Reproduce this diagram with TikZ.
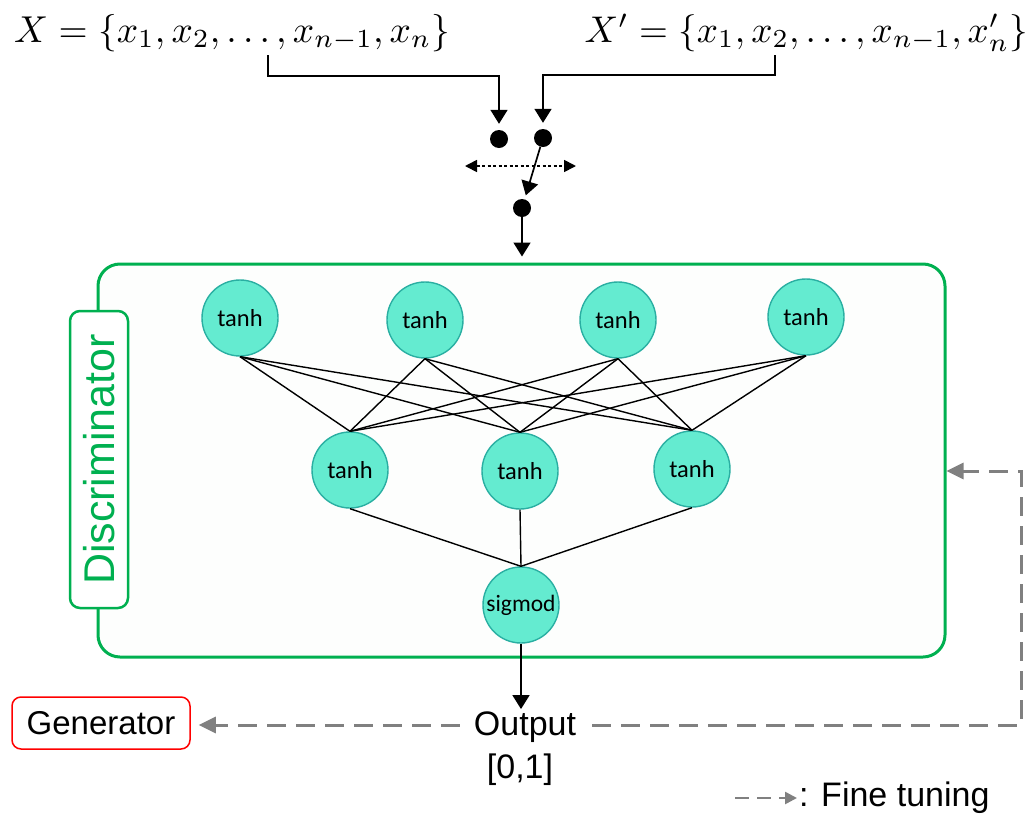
\documentclass[tikz,border=0pt]{standalone}
\usepackage{fontspec}
\usepackage{graphicx}
\setmainfont{Liberation Sans}
\newfontfamily\neuronfont{Carlito}
\usetikzlibrary{arrows.meta,calc}
\definecolor{discgreen}{HTML}{00B050}
\definecolor{neuronfill}{HTML}{64EBD0}
\definecolor{neurondraw}{HTML}{2AAFA2}
\definecolor{tunegray}{HTML}{808080}
\definecolor{boxfill}{HTML}{FDFEFD}

\begin{document}
\begin{tikzpicture}[x=1pt,y=-1pt,
  neuron/.style={circle,draw=neurondraw,line width=1.4pt,fill=neuronfill,
    minimum size=76pt,inner sep=0pt,font=\neuronfont\fontsize{24.5}{26}\selectfont},
  link/.style={line width=1.4pt},
  feed/.style={line width=1.7pt,-{Triangle[length=14pt,width=17pt]}},
  dot/.style={circle,fill=black,minimum size=18pt,inner sep=0pt},
  switch/.style={line width=1.7pt,dash pattern=on 3pt off 2.5pt,
    {Triangle[length=12pt,width=12pt]}-{Triangle[length=12pt,width=12pt]}},
  tune/.style={draw=tunegray,line width=3pt,dash pattern=on 19pt off 10pt,
    -{Triangle[length=17pt,width=16pt,fill=tunegray]}},
  label/.style={font=\fontsize{34}{38}\selectfont,inner sep=2pt}
]
\useasboundingbox (0,0) rectangle (1031,817);
\fill[white] (0,0) rectangle (1031,817);

% input sets
\node[anchor=base west,inner sep=0pt] (xset) at (14,42)
  {\resizebox{436pt}{!}{$X=\{x_1,x_2,\dots,x_{n-1},x_n\}$}};
\node[anchor=base east,inner sep=0pt] (xpset) at (1028,42)
  {\resizebox{443pt}{!}{$X'=\{x_1,x_2,\dots,x_{n-1},x'_n\}$}};

% switch between the two inputs
\node[dot] (d1) at (499,139) {};
\node[dot] (d2) at (543,138) {};
\node[dot] (d3) at (522,208) {};
\coordinate (lsrc) at (268,55);
\coordinate (ljoin) at (499,76);
\coordinate (rsrc) at (775,55);
\coordinate (rjoin) at (543,75);
\coordinate (swl) at (465,166);
\coordinate (swr) at (576,166);
\draw[feed,shorten >=6pt] (lsrc) |- (ljoin) -- (d1);
\draw[feed,shorten >=6pt] (rsrc) |- (rjoin) -- (d2);
\draw[switch] (swl) -- (swr);
\draw[feed,shorten >=4pt] (d2) -- (d3);

% discriminator block
\node[draw=discgreen,line width=3pt,rounded corners=22pt,fill=boxfill,
  minimum width=847pt,minimum height=393pt,inner sep=0pt] (disc) at (521.5,460.5) {};
\node[draw=discgreen,line width=2.5pt,rounded corners=10pt,fill=white,
  minimum width=297pt,minimum height=58pt,inner sep=0pt,rotate=90,
  text=discgreen,font=\fontsize{43}{46}\selectfont] (dlabel) at (99,459.5) {Discriminator};
\draw[feed,shorten >=6pt] (d3) -- (d3 |- disc.north);

% network
\node[neuron] (h1) at (240,318) {tanh};
\node[neuron] (h2) at (425,320) {tanh};
\node[neuron] (h3) at (618,320) {tanh};
\node[neuron] (h4) at (806,317) {tanh};
\node[neuron] (m1) at (350,470) {tanh};
\node[neuron] (m2) at (520,471) {tanh};
\node[neuron] (m3) at (692,469) {tanh};
\node[neuron,font=\neuronfont\fontsize{23.5}{26}\selectfont] (out) at (521,605) {sigmod};
\foreach \a in {h1,h2,h3,h4}
  \foreach \b in {m1,m2,m3}
    \draw[link] (\a.south) -- (\b.north);
\foreach \b in {m1,m2,m3}
  \draw[link] (\b.south) -- (out.north);

% output and feedback
\node[label,anchor=base] (outlabel) at (525,735) {Output};
\node[label,anchor=base] (range) at (520,778) {[0,1]};
\draw[feed] (out.south) -- (out.south |- outlabel.north);
\node[draw=red,line width=1.5pt,rounded corners=9pt,minimum width=178pt,
  minimum height=52pt,inner sep=0pt,font=\fontsize{33}{36}\selectfont] (gen) at (101,723) {Generator};
\coordinate (tbr) at (1021,725);
\coordinate (ttr) at (1021,471);
\draw[tune,shorten <=14pt] (tbr -| outlabel.east) -- (tbr) -- (ttr) -- (disc.east |- ttr);
\draw[tune,shorten <=12pt,shorten >=8pt] (tbr -| outlabel.west) -- (gen.east |- tbr);

% legend
\node[label,anchor=west] (lgtext) at (797,798) {: Fine tuning};
\coordinate (lgstart) at (735,798);
\draw[tune,line width=2.5pt,dash pattern=on 14pt off 8pt,
  -{Triangle[length=12pt,width=12pt,fill=tunegray]}] (lgstart) -- (lgtext.west);
\end{tikzpicture}
\end{document}
